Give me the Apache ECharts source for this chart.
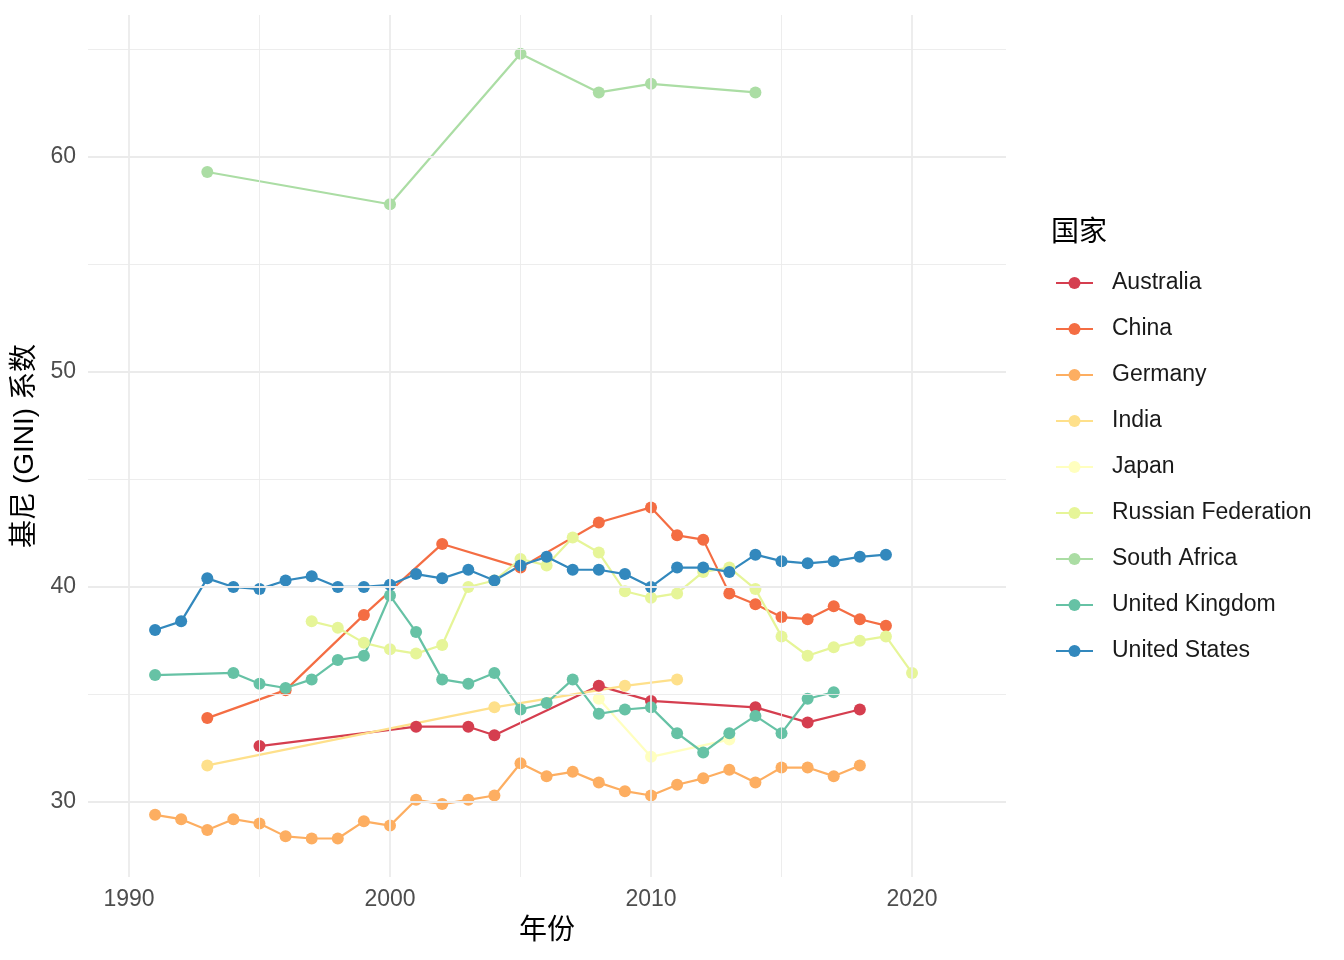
<!DOCTYPE html>
<html>
<head>
<meta charset="utf-8">
<script src="https://cdn.jsdelivr.net/npm/echarts@6/dist/echarts.min.js"></script>
<style>
  html, body { margin: 0; padding: 0; background: #fff; }
  #chart { width: 1344px; height: 960px; }
</style>
</head>
<body>
<div id="chart"></div>
<script>
// countries in legend order, with Spectral palette colours
const countries = ['Australia', 'China', 'Germany', 'India', 'Japan',
  'Russian Federation', 'South Africa', 'United Kingdom', 'United States'];
const colors = ['#D53E4F', '#F46D43', '#FDAE61', '#FEE08B', '#FFFFBF',
  '#E6F598', '#ABDDA4', '#66C2A5', '#3288BD'];

const australiaYears = [1995, 2001, 2003, 2004, 2008, 2010, 2014, 2016, 2018];
const australiaGini = [32.6, 33.5, 33.5, 33.1, 35.4, 34.7, 34.4, 33.7, 34.3];

const chinaYears = [1993, 1996, 1999, 2002, 2005, 2008, 2010, 2011, 2012, 2013, 2014, 2015, 2016, 2017, 2018, 2019];
const chinaGini = [33.9, 35.2, 38.7, 42.0, 40.9, 43.0, 43.7, 42.4, 42.2, 39.7, 39.2, 38.6, 38.5, 39.1, 38.5, 38.2];

const germanyYears = [1991, 1992, 1993, 1994, 1995, 1996, 1997, 1998, 1999, 2000, 2001, 2002, 2003, 2004,
  2005, 2006, 2007, 2008, 2009, 2010, 2011, 2012, 2013, 2014, 2015, 2016, 2017, 2018];
const germanyGini = [29.4, 29.2, 28.7, 29.2, 29.0, 28.4, 28.3, 28.3, 29.1, 28.9, 30.1, 29.9, 30.1, 30.3,
  31.8, 31.2, 31.4, 30.9, 30.5, 30.3, 30.8, 31.1, 31.5, 30.9, 31.6, 31.6, 31.2, 31.7];

const indiaYears = [1993, 2004, 2009, 2011];
const indiaGini = [31.7, 34.4, 35.4, 35.7];

const japanYears = [2008, 2010, 2013];
const japanGini = [34.8, 32.1, 32.9];

const russiaYears = [1997, 1998, 1999, 2000, 2001, 2002, 2003, 2004, 2005, 2006, 2007, 2008,
  2009, 2010, 2011, 2012, 2013, 2014, 2015, 2016, 2017, 2018, 2019, 2020];
const russiaGini = [38.4, 38.1, 37.4, 37.1, 36.9, 37.3, 40.0, 40.3, 41.3, 41.0, 42.3, 41.6,
  39.8, 39.5, 39.7, 40.7, 40.9, 39.9, 37.7, 36.8, 37.2, 37.5, 37.7, 36.0];

const southAfricaYears = [1993, 2000, 2005, 2008, 2010, 2014];
const southAfricaGini = [59.3, 57.8, 64.8, 63.0, 63.4, 63.0];

const ukYears = [1991, 1994, 1995, 1996, 1997, 1998, 1999, 2000, 2001, 2002, 2003, 2004, 2005,
  2006, 2007, 2008, 2009, 2010, 2011, 2012, 2013, 2014, 2015, 2016, 2017];
const ukGini = [35.9, 36.0, 35.5, 35.3, 35.7, 36.6, 36.8, 39.6, 37.9, 35.7, 35.5, 36.0, 34.3,
  34.6, 35.7, 34.1, 34.3, 34.4, 33.2, 32.3, 33.2, 34.0, 33.2, 34.8, 35.1];

const usYears = [1991, 1992, 1993, 1994, 1995, 1996, 1997, 1998, 1999, 2000, 2001, 2002, 2003, 2004,
  2005, 2006, 2007, 2008, 2009, 2010, 2011, 2012, 2013, 2014, 2015, 2016, 2017, 2018, 2019];
const usGini = [38.0, 38.4, 40.4, 40.0, 39.9, 40.3, 40.5, 40.0, 40.0, 40.1, 40.6, 40.4, 40.8, 40.3,
  41.0, 41.4, 40.8, 40.8, 40.6, 40.0, 40.9, 40.9, 40.7, 41.5, 41.2, 41.1, 41.2, 41.4, 41.5];

const seriesYears = [australiaYears, chinaYears, germanyYears, indiaYears, japanYears,
  russiaYears, southAfricaYears, ukYears, usYears];
const seriesGini = [australiaGini, chinaGini, germanyGini, indiaGini, japanGini,
  russiaGini, southAfricaGini, ukGini, usGini];

// grid lines (major / minor) like ggplot theme_minimal
const xMajor = [1990, 2000, 2010, 2020];
const xMinor = [1995, 2005, 2015];
const yMajor = [30, 40, 50, 60];
const yMinor = [35, 45, 55, 65];

const font = '"Liberation Sans", "Noto Sans CJK SC", sans-serif';
const chart = echarts.init(document.getElementById('chart'));

const gridSeries = {
  type: 'line',
  data: [],
  silent: true,
  z: 0,
  markLine: {
    silent: true,
    symbol: 'none',
    label: { show: false },
    animation: false,
    data: [
      ...xMajor.map(v => ({ xAxis: v, lineStyle: { color: '#ebebeb', width: 1.8, type: 'solid' } })),
      ...xMinor.map(v => ({ xAxis: v, lineStyle: { color: '#ebebeb', width: 0.9, type: 'solid' } })),
      ...yMajor.map(v => ({ yAxis: v, lineStyle: { color: '#ebebeb', width: 1.8, type: 'solid' } })),
      ...yMinor.map(v => ({ yAxis: v, lineStyle: { color: '#ebebeb', width: 0.9, type: 'solid' } })),
    ],
  },
};

const isRound = v => Math.abs(v / 10 - Math.round(v / 10)) < 1e-6;

chart.setOption({
  animation: false,
  backgroundColor: '#ffffff',
  textStyle: { fontFamily: font },
  title: {
    text: '国家',
    left: 1051,
    top: 219,
    padding: 0,
    textStyle: { fontSize: 28, fontWeight: 'normal', color: '#000', fontFamily: font },
  },
  legend: {
    data: countries,
    orient: 'vertical',
    left: 1055,
    top: 270,
    padding: 0,
    itemWidth: 37,
    itemHeight: 15,
    itemGap: 20,
    textStyle: { fontSize: 23, color: '#1a1a1a', lineHeight: 26, padding: [0, 0, 0, 14], fontFamily: font },
  },
  grid: { left: 88, right: 338, top: 15, bottom: 83 },
  xAxis: {
    type: 'value',
    min: 1988.43,
    max: 2023.6,
    splitNumber: 4,
    name: '年份',
    nameLocation: 'middle',
    nameGap: 40,
    nameTextStyle: { fontSize: 28, color: '#000', fontFamily: font },
    axisLine: { show: false },
    axisTick: { show: false },
    splitLine: { show: false },
    axisLabel: {
      fontSize: 23, color: '#4d4d4d', margin: 11,
      formatter: v => (isRound(v) ? String(Math.round(v)) : ''),
    },
  },
  yAxis: {
    type: 'value',
    min: 26.51,
    max: 66.6,
    splitNumber: 4,
    name: '基尼 (GINI) 系数',
    nameLocation: 'middle',
    nameGap: 46,
    nameTextStyle: { fontSize: 28, color: '#000', fontFamily: font },
    axisLine: { show: false },
    axisTick: { show: false },
    splitLine: { show: false },
    axisLabel: {
      fontSize: 23, color: '#4d4d4d', margin: 12, padding: [4, 0, 0, 0],
      formatter: v => (isRound(v) ? String(Math.round(v)) : ''),
    },
  },
  series: [gridSeries].concat(countries.map((name, i) => ({
    name,
    type: 'line',
    data: seriesYears[i].map((y, k) => [y, seriesGini[i][k]]),
    color: colors[i],
    symbol: 'circle',
    symbolSize: 12,
    showAllSymbol: true,
    lineStyle: { width: 2.2, color: colors[i] },
    itemStyle: { color: colors[i] },
    emphasis: { disabled: true },
    z: 2,
  }))),
});
</script>
</body>
</html>
